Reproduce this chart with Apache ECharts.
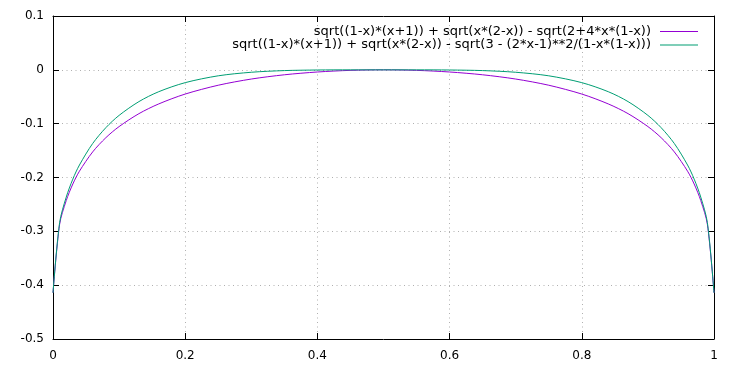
<!DOCTYPE html>
<html>
<head>
<meta charset="utf-8">
<script src="https://cdn.jsdelivr.net/npm/echarts@6/dist/echarts.min.js"></script>
<style>html,body{margin:0;padding:0;background:#fff}#c{width:739px;height:371px}</style>
</head>
<body>
<div id="c"></div>
<script>
var xs = [0, 0.01, 0.02, 0.03, 0.04, 0.06, 0.08, 0.1, 0.13, 0.16, 0.2, 0.25, 0.3, 0.35, 0.4, 0.45, 0.5,
          0.55, 0.6, 0.65, 0.7, 0.75, 0.8, 0.84, 0.87, 0.9, 0.92, 0.94, 0.96, 0.97, 0.98, 0.99, 1];
var purpleVals = [-0.4142, -0.2871, -0.2429, -0.2121, -0.1883, -0.1525, -0.1260, -0.1054, -0.0814, -0.0633, -0.0450, -0.0286, -0.0171, -0.0092, -0.0040, -0.0010, 0,
                  -0.0010, -0.0040, -0.0092, -0.0171, -0.0286, -0.0450, -0.0633, -0.0814, -0.1054, -0.1260, -0.1525, -0.1883, -0.2121, -0.2429, -0.2871, -0.4142];
var greenVals = [-0.4142, -0.2838, -0.2365, -0.2030, -0.1768, -0.1369, -0.1074, -0.0846, -0.0590, -0.0406, -0.0238, -0.0111, -0.0045, -0.0014, -0.0003, 0, 0,
                 0, -0.0003, -0.0014, -0.0045, -0.0111, -0.0238, -0.0406, -0.0590, -0.0846, -0.1074, -0.1369, -0.1768, -0.2030, -0.2365, -0.2838, -0.4142];
var name1 = 'sqrt((1-x)*(x+1)) + sqrt(x*(2-x)) - sqrt(2+4*x*(1-x))';
var name2 = 'sqrt((1-x)*(x+1)) + sqrt(x*(2-x)) - sqrt(3 - (2*x-1)**2/(1-x*(1-x)))';

function pairs(v){ return xs.map(function(x,i){ return [x, v[i]]; }); }
var font = 'DejaVu Sans';
var grid = {show:true, lineStyle:{color:'#b0b0b0', type:[1,3.5], width:1}};
function legendAt(name, top){
  return {data:[name], right:41, top:top, orient:'vertical', align:'right', icon:'rect',
    itemWidth:38, itemHeight:1, itemGap:0, padding:0, selectedMode:false,
    textStyle:{fontFamily:font, fontSize:13, color:'#000', padding:[0,4,0,0]}};
}
var chart = echarts.init(document.getElementById('c'), null, {renderer:'canvas'});
chart.setOption({
  animation:false,
  backgroundColor:'#fff',
  grid:{left:53, right:25, top:16, bottom:32, containLabel:false},
  legend:[ legendAt(name1, 25), legendAt(name2, 38.5) ],
  xAxis:[
    {type:'value', min:0, max:1, interval:0.2, position:'bottom',
     axisLine:{show:true, onZero:false, lineStyle:{color:'#000', width:1}},
     axisTick:{show:true, inside:true, length:6, lineStyle:{color:'#000'}},
     axisLabel:{fontFamily:font, fontSize:12, color:'#000', margin:11},
     splitLine:grid},
    {type:'value', min:0, max:1, interval:0.2, position:'top',
     axisLine:{show:true, onZero:false, lineStyle:{color:'#000', width:1}},
     axisTick:{show:true, inside:true, length:6, lineStyle:{color:'#000'}},
     axisLabel:{show:false}, splitLine:{show:false}}
  ],
  yAxis:[
    {type:'value', min:-0.5, max:0.1, interval:0.1, position:'left',
     axisLine:{show:true, onZero:false, lineStyle:{color:'#000', width:1}},
     axisTick:{show:true, inside:true, length:6, lineStyle:{color:'#000'}},
     axisLabel:{fontFamily:font, fontSize:12, color:'#000', margin:9,
       formatter:function(v){ return String(Math.round(v*10)/10); }},
     splitLine:grid},
    {type:'value', min:-0.5, max:0.1, interval:0.1, position:'right',
     axisLine:{show:true, onZero:false, lineStyle:{color:'#000', width:1}},
     axisTick:{show:true, inside:true, length:6, lineStyle:{color:'#000'}},
     axisLabel:{show:false}, splitLine:{show:false}}
  ],
  series:[
    {name:name1, type:'line', data:pairs(purpleVals), symbol:'none', smooth:0.3,
     lineStyle:{color:'#9400d3', width:1}, itemStyle:{color:'#9400d3'}},
    {name:name2, type:'line', data:pairs(greenVals), symbol:'none', smooth:0.3,
     lineStyle:{color:'#009e73', width:1}, itemStyle:{color:'#009e73'}}
  ]
});
</script>
</body>
</html>
